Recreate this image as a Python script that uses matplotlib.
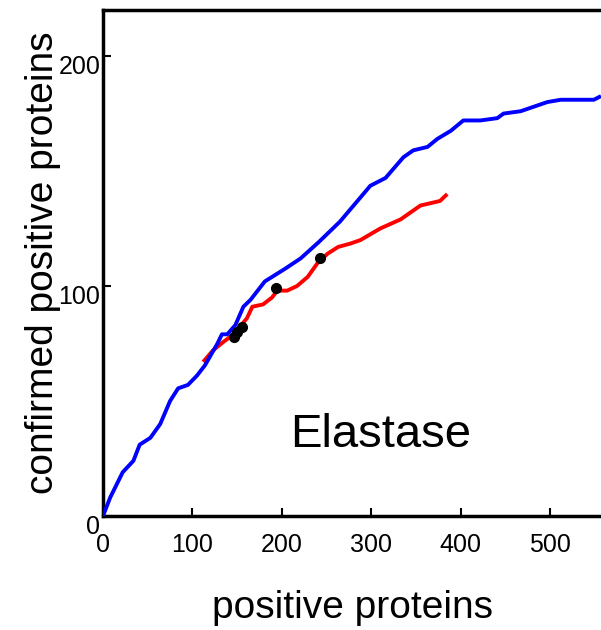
import numpy as np
import matplotlib.pyplot as plt
from matplotlib.transforms import ScaledTranslation

plt.rcParams['font.family'] = ['Liberation Sans', 'DejaVu Sans']

# all positives vs. confirmed positives (blue)
blue_x = [0, 8, 22, 34, 41, 53, 64, 75, 84, 95, 105, 114, 128, 133, 139, 148, 157,
          165, 181, 204, 221, 241, 265, 299, 316, 336, 347, 363, 374, 389, 403,
          422, 441, 448, 467, 482, 497, 512, 549, 557]
blue_y = [0, 8, 19, 24, 31, 34, 40, 50, 55.5, 57, 61, 65.5, 75, 79, 79, 83, 91,
          94, 102, 107.6, 112, 119, 128, 143.6, 147, 156, 159, 160.5, 164, 167.5, 172,
          172, 173, 175, 176, 178, 180, 181, 181, 182.6]

# subset curve (red)
red_x = [112, 123, 134, 146, 161, 167, 179, 189, 195, 206, 217, 229, 240, 251,
         263, 277, 288, 310, 333, 355, 377, 385]
red_y = [67, 72, 75.5, 79, 86, 91, 92, 95, 98, 98, 100, 104, 110, 114,
         117, 118.5, 120, 125, 129, 135, 137, 140]

# black markers on the red curve
dot_x = [146, 150, 156, 194, 243]
dot_y = [78, 80, 82, 99, 112]

xticks = [0, 100, 200, 300, 400, 500]
yticks = [0, 100, 200]

fig = plt.figure(figsize=(6.01, 6.30), dpi=100)
ax = fig.add_axes([0.1714, 0.181, 1.0 - 0.1714, 0.984 - 0.181])

ax.plot(blue_x, blue_y, color='#0000ff', lw=2.8, zorder=3, solid_capstyle='butt')
ax.plot(red_x, red_y, color='#ff0000', lw=2.8, zorder=2, solid_capstyle='butt')
ax.plot(dot_x, dot_y, 'o', color='black', ms=7, zorder=4)

ax.text(311, 35, 'Elastase', fontsize=34, ha='center', va='center')

ax.set_xlim(0, 557)
ax.set_ylim(0, 220)
ax.set_xticks(xticks)
ax.set_yticks(yticks)
ax.tick_params(direction='in', length=6, width=1.5, labelsize=18)
ax.tick_params(axis='x', pad=12)
ax.tick_params(axis='y', pad=2)
for lab in ax.get_yticklabels():
    lab.set_transform(lab.get_transform() + ScaledTranslation(0, -6 / 72, fig.dpi_scale_trans))

ax.spines['right'].set_visible(False)
for s in ['left', 'top', 'bottom']:
    ax.spines[s].set_linewidth(2.5)

ax.set_xlabel('positive proteins', fontsize=28, labelpad=24)
ax.set_ylabel('confirmed positive proteins', fontsize=28, labelpad=-2)

fig.savefig('out.png', dpi=100)
